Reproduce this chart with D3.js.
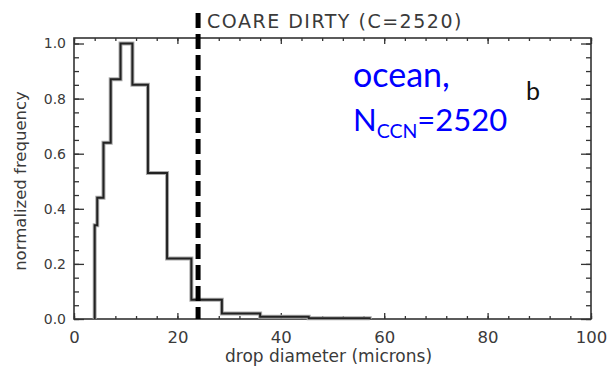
<!DOCTYPE html>
<html>
<head>
<meta charset="utf-8">
<script src="https://cdn.jsdelivr.net/npm/d3@7"></script>
<style>
  body { margin: 0; background: #fff; overflow: hidden; }
  svg { display: block; }
</style>
</head>
<body>
<div id="plot"></div>
<script>
// Width and height
const w = 607;
const h = 371;
const margin = {top: 38, right: 16, bottom: 52, left: 74};
const innerWidth = w - margin.left - margin.right;
const innerHeight = h - margin.top - margin.bottom;

// histogram bins (drop diameter, microns) and normalized frequency
const binEdges = [4.0, 4.5, 5.7, 7.1, 9.0, 11.3, 14.3, 18.0, 22.7, 28.6, 36.0, 45.4, 57.2];
const binFreq = [0.34, 0.44, 0.64, 0.87, 1.0, 0.85, 0.53, 0.22, 0.07, 0.02, 0.008, 0.003];
const xTicks = [0, 20, 40, 60, 80, 100];
const yTicks = [0.0, 0.2, 0.4, 0.6, 0.8, 1.0];
const cutoff = [24];

const axisColor = "#333";
const axisFont = "DejaVu Sans, Verdana, sans-serif";
const noteFont = "Lato, Open Sans, sans-serif";

const svg = d3.select("div#plot")
  .append("svg")
    .attr("width", w)
    .attr("height", h);

svg.append("rect")
  .attr("width", w)
  .attr("height", h)
  .attr("fill", "#fff");

const g = svg.append("g")
  .attr("id", "plot")
  .attr("transform", `translate(${margin.left}, ${margin.top})`);

const xScale = d3.scaleLinear()
  .domain([0, 100])
  .range([0, innerWidth]);

const yScale = d3.scaleLinear()
  .domain([0, 1.02])
  .range([innerHeight, 0]);

const xMinor = d3.range(0, 101, 4);
const yMinor = d3.range(0, 1.001, 0.05);

// helper to style an axis group
function styleAxis(sel, size) {
  sel.select(".domain").remove();
  sel.attr("font-family", axisFont).attr("font-size", size || 10);
  sel.selectAll("line").attr("stroke", axisColor).attr("stroke-width", 1.3);
  sel.selectAll("text").filter(function() { return this.textContent === ""; }).remove();
  sel.selectAll("text").attr("fill", "#3a3a3a");
}

// bottom axis (ticks pointing in)
g.append("g")
  .attr("transform", `translate(0, ${innerHeight})`)
  .call(d3.axisBottom(xScale).tickValues(xMinor).tickSize(-3).tickFormat(""))
  .call(styleAxis);

g.append("g")
  .attr("id", "xaxis")
  .attr("transform", `translate(0, ${innerHeight})`)
  .call(d3.axisBottom(xScale).tickValues(xTicks).tickSizeInner(-6).tickPadding(12).tickFormat(d3.format("d")))
  .call(styleAxis, 16.5);

// top axis
g.append("g")
  .call(d3.axisTop(xScale).tickValues(xMinor).tickSize(-3).tickFormat(""))
  .call(styleAxis);
g.append("g")
  .call(d3.axisTop(xScale).tickValues(xTicks).tickSize(-6).tickFormat(""))
  .call(styleAxis);

// left axis
g.append("g")
  .call(d3.axisLeft(yScale).tickValues(yMinor).tickSize(-5).tickFormat(""))
  .call(styleAxis);
g.append("g")
  .attr("id", "yaxis")
  .call(d3.axisLeft(yScale).tickValues(yTicks).tickSizeInner(-10).tickPadding(8).tickFormat(d3.format(".1f")))
  .call(styleAxis, 14);

// right axis
g.append("g")
  .attr("transform", `translate(${innerWidth}, 0)`)
  .call(d3.axisRight(yScale).tickValues(yMinor).tickSize(-5).tickFormat(""))
  .call(styleAxis);
g.append("g")
  .attr("transform", `translate(${innerWidth}, 0)`)
  .call(d3.axisRight(yScale).tickValues(yTicks).tickSize(-10).tickFormat(""))
  .call(styleAxis);

// frame
g.append("rect")
  .attr("width", innerWidth)
  .attr("height", innerHeight)
  .attr("fill", "none")
  .attr("stroke", axisColor)
  .attr("stroke-width", 1.6);

// histogram outline
const pts = [[binEdges[0], 0]]
  .concat(binFreq.map((f, i) => [binEdges[i], f]))
  .concat([[binEdges[binEdges.length - 1], 0]]);

const line = d3.line()
  .x(d => xScale(d[0]))
  .y(d => yScale(d[1]))
  .curve(d3.curveStepAfter);

g.append("path")
  .datum(pts)
  .attr("d", line)
  .attr("fill", "none")
  .attr("stroke", "#aaa")
  .attr("stroke-width", 4);
g.append("path")
  .datum(pts)
  .attr("d", line)
  .attr("fill", "none")
  .attr("stroke", "#222")
  .attr("stroke-width", 2);

// dashed cutoff line
g.selectAll("line.cut")
  .data(cutoff)
  .enter()
  .append("line")
    .attr("class", "cut")
    .attr("x1", d => xScale(d))
    .attr("x2", d => xScale(d))
    .attr("y1", -25)
    .attr("y2", innerHeight)
    .attr("stroke", "#000")
    .attr("stroke-width", 5)
    .attr("stroke-dasharray", "15,6");

// title
g.append("text")
  .attr("x", xScale(cutoff[0]) + 9)
  .attr("y", -10)
  .attr("font-family", axisFont)
  .attr("font-size", 19)
  .attr("letter-spacing", 1.5)
  .attr("fill", "#3a3a3a")
  .text("COARE DIRTY (C=2520)");

// x-axis label
g.append("text")
  .attr("id", "xlab")
  .attr("x", 151)
  .attr("y", innerHeight + 43)
  .attr("font-family", axisFont)
  .attr("font-size", 17)
  .attr("fill", "#3a3a3a")
  .text("drop diameter (microns)");

// y-axis label
svg.append("text")
  .attr("id", "ylab")
  .attr("transform", "translate(26, 181) rotate(-90)")
  .attr("text-anchor", "middle")
  .attr("font-family", axisFont)
  .attr("font-size", 16.5)
  .attr("fill", "#3a3a3a")
  .text("normalized frequency");

// annotations
svg.append("text")
  .attr("x", 353)
  .attr("y", 87)
  .attr("font-family", noteFont)
  .attr("font-size", 34)
  .attr("fill", "#0000ff")
  .text("ocean,");

const ccn = svg.append("text")
  .attr("x", 353)
  .attr("y", 131)
  .attr("font-family", noteFont)
  .attr("font-size", 31)
  .attr("fill", "#0000ff");
ccn.append("tspan").text("N");
ccn.append("tspan").attr("dy", 7).attr("font-size", 19.5).text("CCN");
ccn.append("tspan").attr("dy", -7).text("=2520");

svg.append("text")
  .attr("x", 526)
  .attr("y", 100)
  .attr("font-family", noteFont)
  .attr("font-size", 25)
  .attr("fill", "#111")
  .text("b");
</script>
</body>
</html>
